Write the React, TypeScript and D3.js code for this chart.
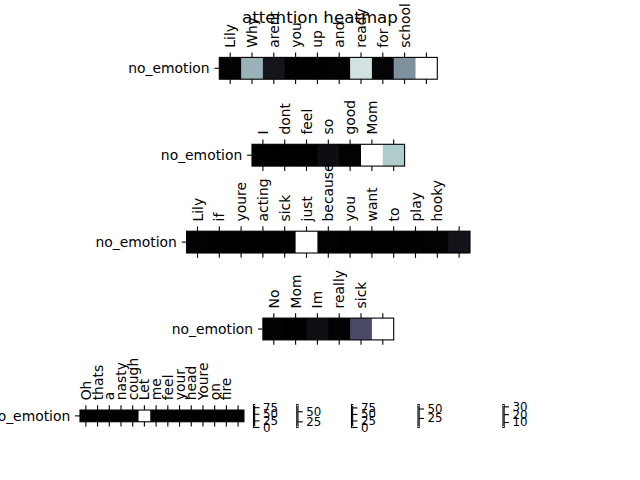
import * as d3 from "d3";

// sentences (last cell of every row has no label)
const words1 = ["Lily", "Why", "arent", "you", "up", "and", "ready", "for", "school"];
const words2 = ["I", "dont", "feel", "so", "good", "Mom"];
const words3 = ["Lily", "if", "youre", "acting", "sick", "just", "because", "you", "want", "to", "play", "hooky"];
const words4 = ["No", "Mom", "Im", "really", "sick"];
const words5 = ["Oh", "thats", "a", "nasty", "cough", "Let", "me", "feel", "your", "head", "Youre", "on", "fire"];

// attention weights, one cell per token (+1 end cell)
const values1 = [0.9, 59.2, 7.8, 0.4, 0.0, 0.8, 75.7, 1.7, 49.6, 87.0];
const values2 = [11.3, 11.0, 11.2, 14.3, 11.4, 68.0, 54.9];
const values3 = [0.6, 0.3, 0.5, 0.4, 0.2, 88.0, 0.7, 0.0, 0.3, 0.5, 0.4, 0.6, 7.0];
const values4 = [1.6, 1.0, 4.7, 1.9, 21.1, 62.0];
const values5 = [3.8, 3.7, 3.6, 3.9, 3.8, 33.0, 3.7, 3.8, 3.6, 3.7, 3.9, 3.8, 3.7, 3.9];

// colorbar tick labels
const cbTicks1 = [0, 25, 50, 75];
const cbTicks2 = [25, 50];
const cbTicks3 = [0, 25, 50, 75];
const cbTicks4 = [25, 50];
const cbTicks5 = [10, 20, 30];

const yLabel = "no_emotion";
const title = "attention heatmap";

const rows = [
  { words: words1, values: values1, ticks: cbTicks1 },
  { words: words2, values: values2, ticks: cbTicks2 },
  { words: words3, values: values3, ticks: cbTicks3 },
  { words: words4, values: values4, ticks: cbTicks4 },
  { words: words5, values: values5, ticks: cbTicks5 },
];

// layout
const W = 640;
const H = 480;
const FONT = "DejaVu Sans, sans-serif";
const TICK = 4.86;
const PAD = 4.86;
const LW = 1.1;
const cbX = [253.5, 296.8, 351.5, 418, 503];
const cbRange: [number, number] = [427.5, 404.5];

// matplotlib "bone"
const boneR = d3.scaleLinear().domain([0, 0.746032, 1]).range([0, 0.652778, 1]).clamp(true);
const boneG = d3.scaleLinear().domain([0, 0.365079, 0.746032, 1]).range([0, 0.319444, 0.777778, 1]).clamp(true);
const boneB = d3.scaleLinear().domain([0, 0.365079, 1]).range([0, 0.444444, 1]).clamp(true);
const bone = (t: number) =>
  d3.rgb(boneR(t) * 255, boneG(t) * 255, boneB(t) * 255).formatHex();

const rowY = d3.scalePoint<number>().domain(d3.range(rows.length)).range([68.3, 415.9]);

function Heatmap({ idx }: { idx: number }) {
  const { words, values, ticks } = rows[idx];
  const n = values.length;
  const last = idx === rows.length - 1;
  const cell = last ? 11.71 : 21.8;
  const x0 = last ? 80 : 328.3 - (n * cell) / 2;
  const x = d3.scaleBand<number>().domain(d3.range(n)).range([x0, x0 + n * cell]);
  const cy = rowY(idx)!;
  const top = cy - cell / 2;
  const bottom = cy + cell / 2;
  const ext = d3.extent(values) as [number, number];
  const color = d3.scaleLinear().domain(ext).range([0, 1]);
  const cb = d3.scaleLinear().domain(ext).range(cbRange);
  const cbx = cbX[idx];
  const cbw = 1.15;

  return (
    <g>
      {values.map((v, i) => (
        <rect
          key={i}
          x={x(i)}
          y={top}
          width={x.bandwidth() + (i < n - 1 ? 1 : 0)}
          height={cell}
          fill={bone(color(v))}
        />
      ))}
      <rect x={x0} y={top} width={n * cell} height={cell} fill="none" stroke="#000" strokeWidth={LW} />
      {d3.range(n).map((i) => {
        const cx = x(i)! + x.bandwidth() / 2;
        return (
          <g key={i}>
            <line x1={cx} x2={cx} y1={top} y2={top - TICK} stroke="#000" strokeWidth={LW} />
            <line x1={cx} x2={cx} y1={bottom} y2={bottom + TICK} stroke="#000" strokeWidth={LW} />
          </g>
        );
      })}
      {words.map((w, i) => {
        const cx = x(i)! + x.bandwidth() / 2;
        return (
          <text
            key={i}
            transform={`translate(${cx},${top - TICK - PAD}) rotate(-90)`}
            fontSize={13.9}
            fontFamily={FONT}
            dominantBaseline="central"
            textAnchor="start"
          >
            {w}
          </text>
        );
      })}
      <line x1={x0} x2={x0 - TICK} y1={cy} y2={cy} stroke="#000" strokeWidth={LW} />
      <text x={x0 - TICK - PAD} y={cy} fontSize={13.9} fontFamily={FONT} textAnchor="end" dominantBaseline="central">
        {yLabel}
      </text>

      {/* squashed colorbar */}
      <rect x={cbx} y={cbRange[1]} width={cbw} height={cbRange[0] - cbRange[1]} fill="none" stroke="#000" strokeWidth={LW} />
      {ticks.map((t) => (
        <g key={t}>
          <line x1={cbx + cbw} x2={cbx + cbw + TICK} y1={cb(t)} y2={cb(t)} stroke="#000" strokeWidth={LW} />
          <text
            x={cbx + cbw + TICK + 3.5}
            y={cb(t)}
            fontSize={11.8}
            fontFamily={FONT}
            dominantBaseline="central"
          >
            {t}
          </text>
        </g>
      ))}
    </g>
  );
}

export default function App() {
  return (
    <svg
      width={W}
      height={H}
      style={{ position: "fixed", left: 0, top: 0, background: "#fff" }}
    >
      <rect width={W} height={H} fill="#fff" />
      <text x={W / 2} y={22.5} fontSize={16.67} fontFamily={FONT} textAnchor="middle">
        {title}
      </text>
      {rows.map((_, i) => (
        <Heatmap key={i} idx={i} />
      ))}
    </svg>
  );
}
